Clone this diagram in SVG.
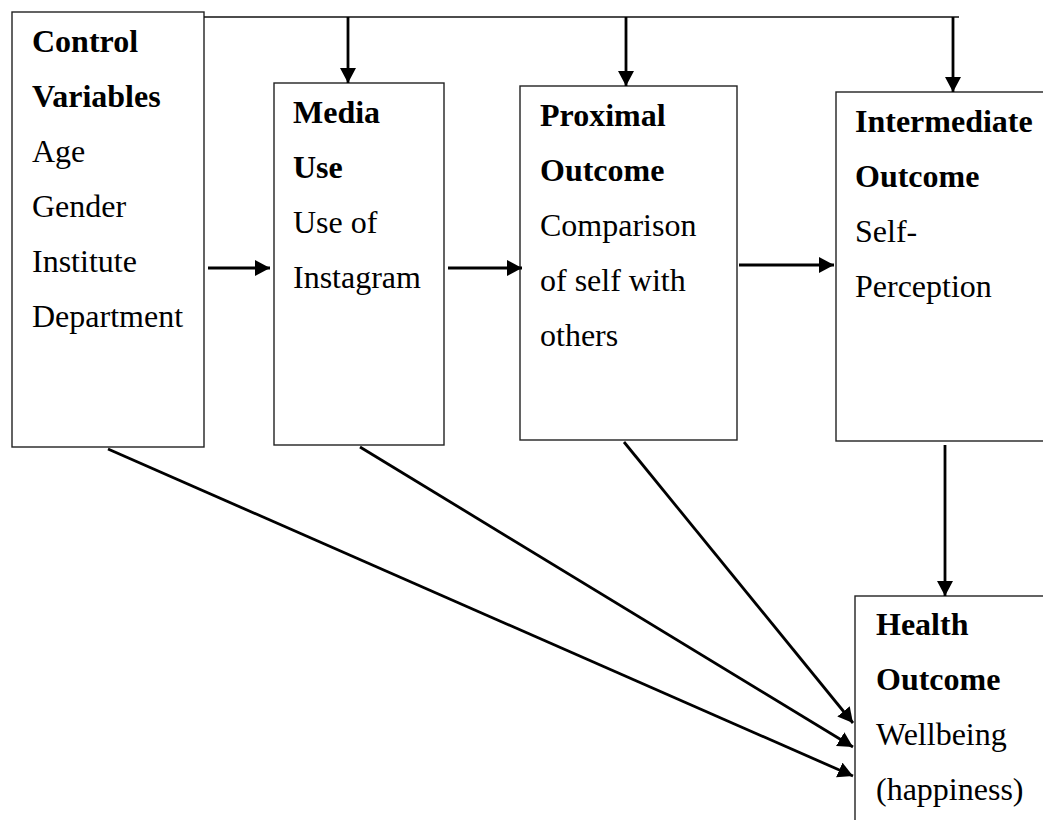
<svg xmlns="http://www.w3.org/2000/svg" width="1043" height="820" viewBox="0 0 1043 820">
<style>
.box{fill:#fff;stroke:#222;stroke-width:1.4}
.t{font-family:"Liberation Serif","Times New Roman",serif;font-size:32px;fill:#000}
.b{font-weight:bold}
.c{stroke:#000;stroke-width:2.8;fill:none}
.thin{stroke:#111;stroke-width:1.4;fill:none}
</style>
<defs>
<marker id="ah" markerUnits="userSpaceOnUse" markerWidth="18" markerHeight="18" refX="15" refY="8" orient="auto">
<path d="M0,0 L15,8 L0,16 z" fill="#000"/>
</marker>
</defs>
<rect width="1043" height="820" fill="#fff"/>
<g id="control">
<rect class="box" x="12" y="12" width="192" height="435"/>
<text class="t b" x="32" y="52">Control</text>
<text class="t b" x="32" y="107">Variables</text>
<text class="t" x="32" y="162">Age</text>
<text class="t" x="32" y="217">Gender</text>
<text class="t" x="32" y="272">Institute</text>
<text class="t" x="32" y="327">Department</text>
</g>
<g id="media">
<rect class="box" x="274" y="83" width="170" height="362"/>
<text class="t b" x="293" y="123">Media</text>
<text class="t b" x="293" y="178">Use</text>
<text class="t" x="293" y="233">Use of</text>
<text class="t" x="293" y="288">Instagram</text>
</g>
<g id="proximal">
<rect class="box" x="520" y="86" width="217" height="354"/>
<text class="t b" x="540" y="126">Proximal</text>
<text class="t b" x="540" y="181">Outcome</text>
<text class="t" x="540" y="236">Comparison</text>
<text class="t" x="540" y="291">of self with</text>
<text class="t" x="540" y="346">others</text>
</g>
<g id="intermediate">
<rect class="box" x="836" y="92" width="220" height="349"/>
<text class="t b" x="855" y="132">Intermediate</text>
<text class="t b" x="855" y="187">Outcome</text>
<text class="t" x="855" y="242">Self-</text>
<text class="t" x="855" y="297">Perception</text>
</g>
<g id="health">
<rect class="box" x="855" y="596" width="200" height="240"/>
<text class="t b" x="876" y="635">Health</text>
<text class="t b" x="876" y="690">Outcome</text>
<text class="t" x="876" y="745">Wellbeing</text>
<text class="t" x="876" y="800">(happiness)</text>
</g>
<g id="connectors">
<line class="thin" x1="204" y1="17" x2="959" y2="17"/>
<line class="c" x1="348" y1="17" x2="348" y2="83" marker-end="url(#ah)"/>
<line class="c" x1="626" y1="17" x2="626" y2="86" marker-end="url(#ah)"/>
<line class="c" x1="953" y1="17" x2="953" y2="92" marker-end="url(#ah)"/>
<line class="c" x1="208" y1="268" x2="270" y2="268" marker-end="url(#ah)"/>
<line class="c" x1="448" y1="268" x2="522" y2="268" marker-end="url(#ah)"/>
<line class="c" x1="739" y1="265" x2="834" y2="265" marker-end="url(#ah)"/>
<line class="c" x1="945" y1="445" x2="945" y2="596" marker-end="url(#ah)"/>
<line class="c" x1="624" y1="442" x2="853" y2="723" marker-end="url(#ah)"/>
<line class="c" x1="360" y1="447" x2="853" y2="747" marker-end="url(#ah)"/>
<line class="c" x1="108" y1="449" x2="853" y2="776" marker-end="url(#ah)"/>
</g>
</svg>
